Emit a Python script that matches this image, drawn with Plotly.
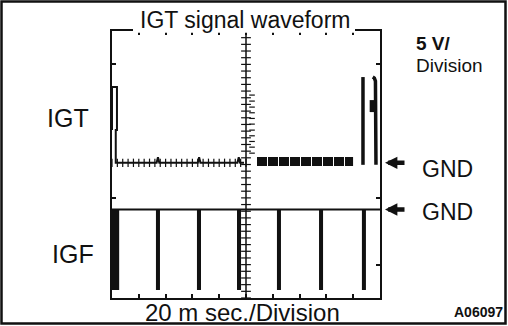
import plotly.graph_objects as go

# ---- canvas and screen geometry (pixels) ----
W, H = 508, 326
SX0, SX1, SY0, SY1 = 112, 380, 31, 298   # scope screen: left, right, top, bottom

# ---- scale: 10 x 20 ms horizontally, 8 vertical divisions ----
T_MAX = 200
DIVS = 8

# ---- channel reference levels (divisions from screen bottom) ----
IGT_GND = 4.05
IGF_GND = 2.65

# ---- IGT trace (time in ms, level in divisions) ----
igt_t = [0, 0, 3.7, 3.7, 2.8, 2.8, 33.3, 34.3, 35.3, 64.0, 65.0, 66.0, 93.6, 94.6, 95.6, 98.5]
igt_v = [5.03, 6.32, 6.32, 5.03, 5.03, 4.05, 4.05, 4.22, 4.05, 4.05, 4.22, 4.05, 4.05, 4.22, 4.05, 4.05]

# dense dwell section on the right half
igt_burst_t = [108.2, 179.9]
igt_burst_v = [4.09, 4.09]

# ignition spikes near the right edge
igt_spike1_t = [187.3, 187.3]
igt_spike1_v = [3.99, 6.62]
igt_spike2_t = [197.0, 197.0, 196.6, 195.8, 194.6]
igt_spike2_v = [3.99, 6.35, 6.50, 6.59, 6.62]
igt_spike2_bar_t = [192.3, 196.5]
igt_spike2_bar_v = [5.75, 5.75]

# faint ghost column right of the centre line
ghost_t = [104.5] * 11
ghost_v = [4.34, 4.52, 4.69, 4.86, 5.03, 5.21, 5.38, 5.55, 5.72, 5.90, 6.08]

# ---- IGF trace ----
igf_high = 2.65
igf_low = 0.24
igf_pulse_t = [2.6, 34.3, 64.9, 94.8, 124.6, 156.0, 188.0]
igf_pulse_w = [5.5, 3.0, 3.0, 3.0, 3.0, 3.0, 3.0]

# ---- graticule tick positions ----
x_div_ticks = [20, 40, 60, 80, 100, 120, 140, 160, 180]
y_div_ticks = [1, 3, 7]
centre_v_ticks = [i * 0.2 for i in range(41)]
centre_h_ticks = [i * 4 for i in range(26)]

FONT = "Liberation Sans, Arial, Helvetica, sans-serif"
INK = "#111111"


def px_x(px):
    return (px - SX0) / (SX1 - SX0)


def px_y(py):
    return (SY1 - py) / (SY1 - SY0)


fig = go.Figure()

# centre vertical graticule line with minor ticks
fig.add_trace(go.Scatter(x=[100] * len(centre_v_ticks), y=centre_v_ticks, mode="lines+markers",
                         line=dict(color=INK, width=1.5),
                         marker=dict(symbol="line-ew", size=7, line=dict(color=INK, width=1.2))))
# centre horizontal minor ticks (left half)
fig.add_trace(go.Scatter(x=centre_h_ticks, y=[IGT_GND] * len(centre_h_ticks), mode="markers",
                         marker=dict(symbol="line-ns", size=6, line=dict(color=INK, width=1.2))))
# ghost column
fig.add_trace(go.Scatter(x=ghost_t, y=ghost_v, mode="markers",
                         marker=dict(symbol="line-ew", size=4, line=dict(color=INK, width=1.2))))

# IGT
fig.add_trace(go.Scatter(x=igt_t, y=igt_v, mode="lines", line=dict(color=INK, width=2)))
fig.add_trace(go.Scatter(x=igt_burst_t, y=igt_burst_v, mode="lines",
                         line=dict(color=INK, width=9, dash="10px,1px")))
fig.add_trace(go.Scatter(x=igt_spike1_t, y=igt_spike1_v, mode="lines", line=dict(color=INK, width=3.5)))
fig.add_trace(go.Scatter(x=igt_spike2_t, y=igt_spike2_v, mode="lines",
                         line=dict(color=INK, width=3.5)))
fig.add_trace(go.Scatter(x=igt_spike2_bar_t, y=igt_spike2_bar_v, mode="lines",
                         line=dict(color=INK, width=12)))

# IGF
fig.add_trace(go.Scatter(x=[0, T_MAX], y=[igf_high, igf_high], mode="lines", line=dict(color=INK, width=2)))
fig.add_trace(go.Bar(x=igf_pulse_t, y=[igf_high - igf_low] * len(igf_pulse_t), base=igf_low,
                     width=igf_pulse_w, marker=dict(color=INK, line=dict(width=0))))

shapes = [
    # mask the screen top edge behind the title
    dict(type="rect", xref="paper", yref="paper", layer="above",
         x0=px_x(133), x1=px_x(355), y0=px_y(32.8), y1=px_y(29),
         fillcolor="white", line=dict(width=0)),
    # outer border of the figure
    dict(type="rect", xref="paper", yref="paper", layer="above",
         x0=px_x(1.5), x1=px_x(505.5), y0=px_y(323.5), y1=px_y(1.5),
         line=dict(color=INK, width=2.5), fillcolor="rgba(0,0,0,0)"),
]

ann = []


def text(s, x, y, size, xanchor="left", bold=False, bg=None):
    ann.append(dict(text=f"<b>{s}</b>" if bold else s, x=px_x(x), y=px_y(y), xref="paper", yref="paper",
                    xanchor=xanchor, yanchor="middle", showarrow=False,
                    font=dict(family=FONT, size=size, color=INK),
                    bgcolor=bg, borderpad=0))


text("IGT signal waveform", 244.5, 20, 23, xanchor="center")
text("5 V/", 415, 43, 19, bold=True)
text("Division", 415, 65, 19)
text("IGT", 46, 118, 25)
text("IGF", 51, 254, 25)
text("GND", 421, 169, 23)
text("GND", 421, 212, 23)
text("20 m sec./Division", 242, 312, 24, xanchor="center")
text("A06097", 504, 312, 14, xanchor="right", bold=True)

# GND arrows pointing at each channel reference
for lvl in (IGT_GND, IGF_GND):
    ann.append(dict(text="", x=px_x(385), y=lvl, xref="paper", yref="y", showarrow=True,
                    ax=21, ay=0, arrowhead=2, arrowsize=0.55, arrowwidth=4.5, arrowcolor=INK))

fig.update_layout(
    width=W, height=H,
    margin=dict(l=SX0, r=W - SX1, t=SY0, b=H - SY1),
    paper_bgcolor="white", plot_bgcolor="white",
    showlegend=False, hovermode=False,
    shapes=shapes, annotations=ann,
    xaxis=dict(range=[0, T_MAX], showgrid=False, zeroline=False, showticklabels=False,
               showline=True, mirror="ticks", linecolor=INK, linewidth=2,
               ticks="inside", ticklen=4, tickwidth=1.5, tickcolor=INK, tickvals=x_div_ticks),
    yaxis=dict(range=[0, DIVS], showgrid=False, zeroline=False, showticklabels=False,
               showline=True, mirror="ticks", linecolor=INK, linewidth=2,
               ticks="inside", ticklen=4, tickwidth=1.5, tickcolor=INK, tickvals=y_div_ticks),
)

fig.write_html("out.html")
